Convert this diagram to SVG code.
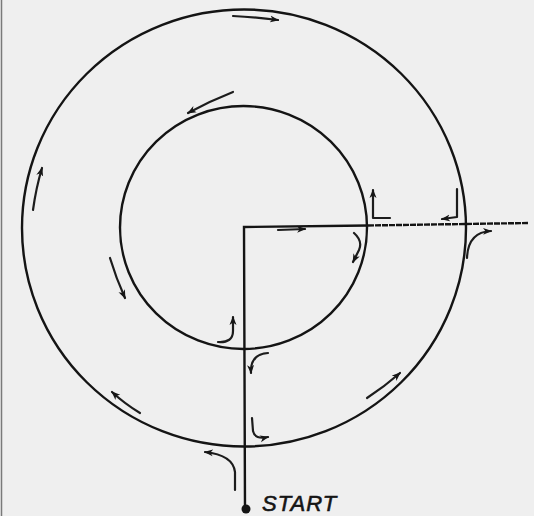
<svg xmlns="http://www.w3.org/2000/svg" width="534" height="516" viewBox="0 0 534 516">
  <defs>
    <marker id="ah" viewBox="0 0 10 8" refX="8" refY="4" markerWidth="10" markerHeight="8" markerUnits="userSpaceOnUse" orient="auto">
      <path d="M0,0.5 L9,4 L0,7.5 L2.5,4 z" fill="#161616"/>
    </marker>
  </defs>
  <style>
    .ring { fill: none; stroke: #141414; stroke-width: 2.4; }
    .road { fill: none; stroke: #141414; stroke-width: 2.4; }
    .arr { fill: none; stroke: #1c1c1c; stroke-width: 2.2; stroke-linecap: round; stroke-linejoin: round; marker-end: url(#ah); }
    .lbl { font-family: "Liberation Sans", Arial, sans-serif; font-style: italic; font-size: 22px; fill: #151515; stroke: #151515; stroke-width: 0.6; letter-spacing: 1px; }
  </style>
  <rect x="0" y="0" width="534" height="516" fill="#efefef"/>
  <line x1="1.5" y1="0" x2="1.5" y2="516" stroke="#7a7a7a" stroke-width="1.5"/>

  <g id="outer-ring">
    <ellipse class="ring" cx="244" cy="228" rx="222" ry="218.5"/>
  </g>
  <g id="inner-ring">
    <ellipse class="ring" cx="243.5" cy="227.5" rx="123.5" ry="121.5" stroke-width="2.7"/>
  </g>

  <g id="roads">
    <path class="road" d="M245,510 L244,227 L368,225.5"/>
    <path class="road" d="M368,225.5 L528,223" stroke-dasharray="6 1"/>
  </g>

  <g id="start">
    <circle cx="246" cy="509" r="4.5" fill="#141414"/>
    <text class="lbl" x="262" y="511">START</text>
  </g>

  <g id="connectors">
    <!-- outer ring direction arrows -->
    <path class="arr" d="M233,16 Q255,17 278,20"/>
    <path class="arr" d="M33,210 Q36,188 42,168"/>
    <path class="arr" d="M110,258 Q116,278 125,298"/>
    <path class="arr" d="M140,413 Q125,404 112,392"/>
    <path class="arr" d="M367,398 Q384,387 400,373"/>
    <!-- inner ring -->
    <path class="arr" d="M233,92 Q210,101 188,113" stroke="#555"/>
    <!-- horizontal road -->
    <path class="arr" d="M278,230 L305,229"/>
    <!-- turning arrows near right crossings -->
    <path class="arr" d="M390,218 L373,218 L373,190"/>
    <path class="arr" d="M457,189 L457,217 L442,219"/>
    <path class="arr" d="M467,258 Q468,232 491,231"/>
    <path class="arr" d="M354,233 Q363,241 359,250 L353,262"/>
    <!-- turning arrows on vertical road -->
    <path class="arr" d="M218,342 Q233,343 233,331 L233,317"/>
    <path class="arr" d="M268,353 Q250,354 251,373"/>
    <path class="arr" d="M252,418 L253,431 Q255,440 268,437"/>
    <path class="arr" d="M235,490 L235,472 Q233,455 205,452"/>
  </g>
</svg>
